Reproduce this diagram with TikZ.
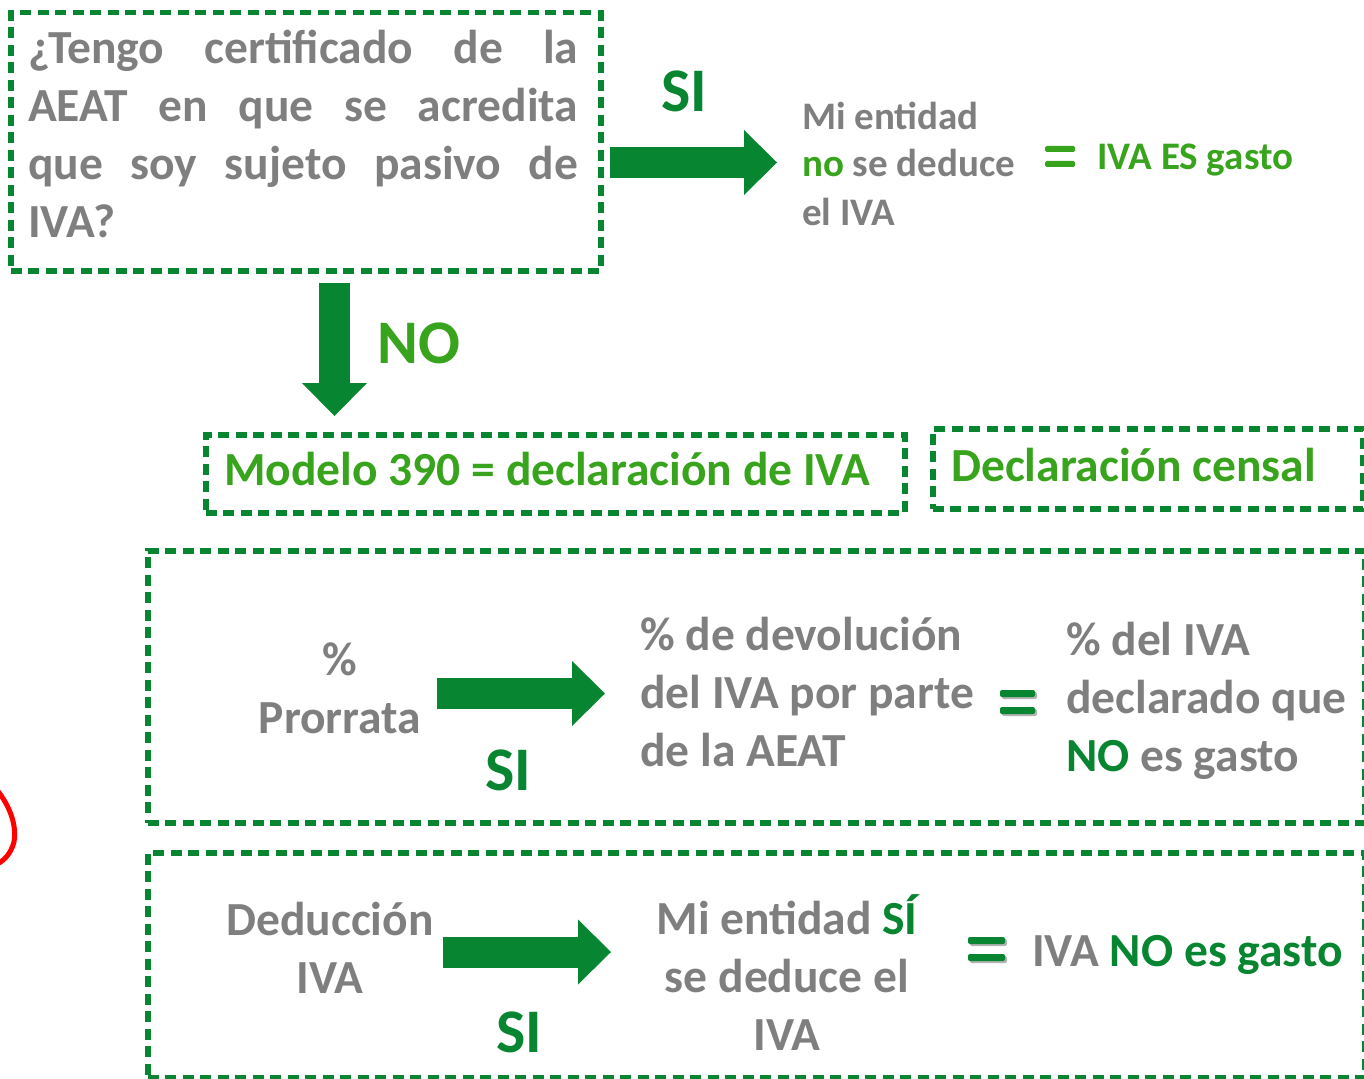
\documentclass[tikz,border=0pt]{standalone}
\usepackage{fontspec}
\setmainfont{Carlito}
\usetikzlibrary{arrows.meta}
\definecolor{dkgreen}{RGB}{7,133,49}
\definecolor{ltgreen}{RGB}{56,163,28}
\definecolor{txtgray}{RGB}{127,127,127}

\begin{document}
\begin{tikzpicture}[x=1pt,y=-1pt,
	dashbox/.style={draw=dkgreen, line width=5.5pt, dash pattern=on 11pt off 6.5pt, anchor=north west, inner sep=0pt},
	bigarrow/.style={draw=dkgreen, line width=31pt, -{Triangle[length=33pt,width=65pt,line width=0pt]}},
	graytxt/.style={text=txtgray, inner sep=0pt, font=\bfseries\fontsize{47.5}{58}\selectfont},
	smalltxt/.style={text=txtgray, inner sep=0pt, font=\bfseries\fontsize{39}{48}\selectfont},
	answer/.style={inner sep=0pt, font=\bfseries\fontsize{62}{70}\selectfont}]
	\useasboundingbox (0,0) rectangle (1364,1078);

	%BOXES
	\node[dashbox, minimum width=590, minimum height=258] (qbox) at (8,10) {};
	\node[dashbox, minimum width=699, minimum height=78] (mbox) at (203,432) {};
	\node[dashbox, minimum width=430, minimum height=80] (cbox) at (930,426) {};
	\node[dashbox, minimum width=1217, minimum height=272] (pbox) at (145,548) {};
	\node[dashbox, minimum width=1217, minimum height=225] (dbox) at (145,850) {};

	%QUESTION (base = last line)
	\node[graytxt, anchor=base west, align=left] (question) at (28,237)
		{\makebox[550pt][s]{¿Tengo certificado de la}\\
		 \makebox[550pt][s]{AEAT en que se acredita}\\
		 \makebox[550pt][s]{que soy sujeto pasivo de}\\
		 IVA?};

	%SI -- TOP RIGHT
	\node[answer, text=dkgreen, anchor=base] (siTop) at (684,112) {SI};
	\coordinate (siA) at (610,162.5);
	\coordinate (siB) at (777,162.5);
	\draw[bigarrow] (siA) -- (siB);
	\node[smalltxt, anchor=base west, align=left] (nodeduce) at (802,225)
		{Mi entidad\\ \textcolor{ltgreen}{no} se deduce\\ el IVA};
	\fill[ltgreen, rounded corners=1.5pt] (1045,146) rectangle (1075,152);
	\fill[ltgreen, rounded corners=1.5pt] (1045,161) rectangle (1075,167);
	\node[smalltxt, text=ltgreen, anchor=base west] (esgasto) at (1097,170) {IVA ES gasto};

	%NO -- DOWN
	\coordinate (noA) at (334.5,283);
	\coordinate (noB) at (334.5,416);
	\draw[bigarrow] (noA) -- (noB);
	\node[answer, text=ltgreen, anchor=base] (noLbl) at (419,363) {NO};
	\node[graytxt, text=ltgreen, anchor=base west] (modelo) at (224,485) {Modelo 390 = declaración de IVA};
	\node[graytxt, text=ltgreen, anchor=base west] (censal) at (951,481) {Declaración censal};

	%PRORRATA
	\node[graytxt, anchor=base, align=center] (prorrata) at (340,733) {\%\\ Prorrata};
	\coordinate (prA) at (437,693.5);
	\coordinate (prB) at (605,693.5);
	\draw[bigarrow] (prA) -- (prB);
	\node[answer, text=dkgreen, anchor=base] (siPr) at (508,790) {SI};
	\node[graytxt, anchor=base west, align=left] (devol) at (640,766)
		{\% de devolución\\ del IVA por parte\\ de la AEAT};
	\fill[gray!60, rounded corners=2pt] (1002,692) rectangle (1037,699);
	\fill[gray!60, rounded corners=2pt] (1002,709) rectangle (1037,716);
	\fill[dkgreen, rounded corners=2pt] (1000,690) rectangle (1035,697);
	\fill[dkgreen, rounded corners=2pt] (1000,707) rectangle (1035,714);
	\node[graytxt, anchor=base west, align=left] (porcIVA) at (1066,771)
		{\% del IVA\\ declarado que\\ \textcolor{dkgreen}{NO} es gasto};

	%DEDUCCION
	\node[graytxt, anchor=base, align=center] (deduc) at (330,993) {Deducción\\ IVA};
	\coordinate (deA) at (443,952);
	\coordinate (deB) at (611,952);
	\draw[bigarrow] (deA) -- (deB);
	\node[answer, text=dkgreen, anchor=base] (siDe) at (519,1052) {SI};
	\node[graytxt, anchor=base, align=center] (sededuce) at (787,1050)
		{Mi entidad \textcolor{dkgreen}{SÍ}\\ se deduce el\\ IVA};
	\fill[gray!60, rounded corners=2pt] (970,939) rectangle (1007,946);
	\fill[gray!60, rounded corners=2pt] (970,956) rectangle (1007,963);
	\fill[dkgreen, rounded corners=2pt] (968,937) rectangle (1005,944);
	\fill[dkgreen, rounded corners=2pt] (968,954) rectangle (1005,961);
	\node[graytxt, anchor=base west] (nogasto) at (1032,966)
		{IVA \textcolor{dkgreen}{NO es gasto}};

	%RED MARK
	\draw[red, line width=5pt] (-3,790) .. controls (9,805) and (17,824) .. (14,842) .. controls (11,853) and (5,860) .. (-3,864);
\end{tikzpicture}
\end{document}
